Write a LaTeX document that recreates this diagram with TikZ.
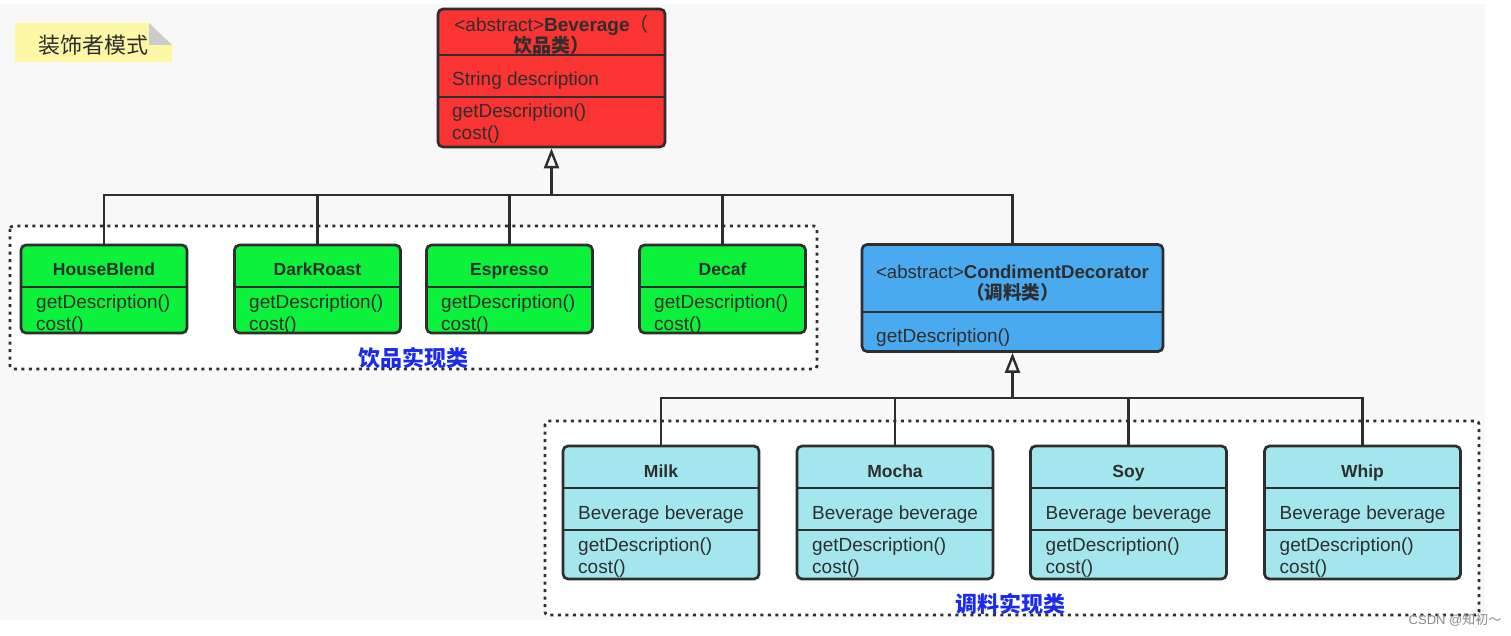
\documentclass[tikz,border=0pt]{standalone}
\usepackage{fontspec}
\setmainfont{Liberation Sans}
\newfontfamily\cjk{Noto Sans CJK SC}
\usetikzlibrary{arrows.meta}
\usetikzlibrary{calc}
\definecolor{bgray}{HTML}{F8F8F8}
\definecolor{edge}{HTML}{2E2E2E}
\definecolor{bevred}{HTML}{FA3333}
\definecolor{impgreen}{HTML}{0CF23C}
\definecolor{decblue}{HTML}{4AAAF0}
\definecolor{condcyan}{HTML}{A3E6EE}
\definecolor{notey}{HTML}{FCF8A6}
\definecolor{groupblue}{HTML}{1A2BEF}

\begin{document}
\begin{tikzpicture}[x=1pt,y=-1pt,
	cls/.style={draw=edge,line width=2.7pt,rounded corners=5pt,inner sep=0pt},
	sep/.style={draw=edge,line width=2.7pt},
	wire/.style={draw=edge,line width=2.7pt},
	inh/.style={wire,-{Triangle[open,length=20pt,width=15pt,line width=2.4pt]}},
	grp/.style={draw=edge,fill=white,line width=2.7pt,dash pattern=on 3pt off 4.5pt,rounded corners=3pt},
	memb/.style={anchor=base west,inner sep=0pt,text=edge,font=\fontsize{19}{21}\selectfont},
	ttl/.style={anchor=base,inner sep=0pt,text=edge,font=\fontsize{17.5}{21.5}\selectfont\bfseries},
	head/.style={inner sep=0pt,text=edge,align=center},
	grplabel/.style={inner sep=0pt,text=groupblue,font=\fontsize{22}{24}\selectfont\cjk\bfseries}]

	    % page and note
	    \useasboundingbox (0,0) rectangle (1511,636);
	    \fill[white] (0,0) rectangle (1511,636);
	    \fill[bgray] (0,4) rectangle (1485,620);
	    \fill[notey] (15,23) -- (149,23) -- (172,45) -- (172,62) -- (15,62) -- cycle;
	    \fill[black!20] (149,23) -- (149,45) -- (172,45) -- cycle;
	    \node[inner sep=0pt,text=edge,font=\fontsize{22}{24}\selectfont\cjk] (note) at (93,45) {装饰者模式};

	    % groups
	    \draw[grp] (10,226) rectangle (817,369);
	    \draw[grp] (545,421) rectangle (1479,615);

	    % Beverage
	    \node[cls,fill=bevred,minimum width=227pt,minimum height=138pt] (bev) at (551.5,78) {};
	    \draw[sep] (438,55) -- (665,55);
	    \draw[sep] (438,97) -- (665,97);
	    \node[head,font=\fontsize{19}{21.5}\selectfont] (bevt) at (551.5,35) {<abstract>\textbf{Beverage}\cjk（\\{\cjk\bfseries 饮品类）}};
	    \node[memb] (beva) at (452,86) {String description};
	    \node[memb] (bevm1) at (452,118) {getDescription()};
	    \node[memb] (bevm2) at (452,140) {cost()};

	    % drinks
	    \node[cls,fill=impgreen,minimum width=166pt,minimum height=88pt] (hb) at (104,289) {};
	    \node[cls,fill=impgreen,minimum width=166pt,minimum height=88pt] (dr) at (317.5,289) {};
	    \node[cls,fill=impgreen,minimum width=166pt,minimum height=88pt] (es) at (509.5,289) {};
	    \node[cls,fill=impgreen,minimum width=166pt,minimum height=88pt] (dc) at (722.5,289) {};
	    \draw[sep] (21,287) -- (187,287);
	    \draw[sep] (234.5,287) -- (400.5,287);
	    \draw[sep] (426.5,287) -- (592.5,287);
	    \draw[sep] (639.5,287) -- (805.5,287);
	    \node[ttl] (hbt) at (104,275.5) {HouseBlend};
	    \node[ttl] (drt) at (317.5,275.5) {DarkRoast};
	    \node[ttl] (est) at (509.5,275.5) {Espresso};
	    \node[ttl] (dct) at (722.5,275.5) {Decaf};
	    \node[memb] (hbm1) at (36,308) {getDescription()};
	    \node[memb] (hbm2) at (36,330) {cost()};
	    \node[memb] (drm1) at (249,308) {getDescription()};
	    \node[memb] (drm2) at (249,330) {cost()};
	    \node[memb] (esm1) at (441,308) {getDescription()};
	    \node[memb] (esm2) at (441,330) {cost()};
	    \node[memb] (dcm1) at (654,308) {getDescription()};
	    \node[memb] (dcm2) at (654,330) {cost()};
	    \node[grplabel] (drinks) at (413,358) {饮品实现类};

	    % CondimentDecorator
	    \node[cls,fill=decblue,minimum width=301pt,minimum height=107pt] (cd) at (1012.5,298) {};
	    \draw[sep] (862,312) -- (1163,312);
	    \node[head,font=\fontsize{18.6}{21.5}\selectfont] (cdt) at (1012.5,283) {<abstract>\textbf{CondimentDecorator}\\{\cjk\bfseries （调料类）}};
	    \node[memb] (cdm1) at (876,342) {getDescription()};

	    % condiments
	    \node[cls,fill=condcyan,minimum width=196pt,minimum height=133pt] (milk) at (661,512.5) {};
	    \node[cls,fill=condcyan,minimum width=196pt,minimum height=133pt] (mocha) at (895,512.5) {};
	    \node[cls,fill=condcyan,minimum width=196pt,minimum height=133pt] (soy) at (1128.5,512.5) {};
	    \node[cls,fill=condcyan,minimum width=196pt,minimum height=133pt] (whip) at (1362.5,512.5) {};
	    \draw[sep] (563,488) -- (759,488);  \draw[sep] (563,530) -- (759,530);
	    \draw[sep] (797,488) -- (993,488);  \draw[sep] (797,530) -- (993,530);
	    \draw[sep] (1030.5,488) -- (1226.5,488);  \draw[sep] (1030.5,530) -- (1226.5,530);
	    \draw[sep] (1264.5,488) -- (1460.5,488);  \draw[sep] (1264.5,530) -- (1460.5,530);
	    \node[ttl] (milkt) at (661,477) {Milk};
	    \node[ttl] (mochat) at (895,477) {Mocha};
	    \node[ttl] (soyt) at (1128.5,477) {Soy};
	    \node[ttl] (whipt) at (1362.5,477) {Whip};
	    \node[memb] (milka) at (578,519) {Beverage beverage};
	    \node[memb] (milkm1) at (578,551) {getDescription()};
	    \node[memb] (milkm2) at (578,573) {cost()};
	    \node[memb] (mochaa) at (812,519) {Beverage beverage};
	    \node[memb] (mocham1) at (812,551) {getDescription()};
	    \node[memb] (mocham2) at (812,573) {cost()};
	    \node[memb] (soya) at (1045.5,519) {Beverage beverage};
	    \node[memb] (soym1) at (1045.5,551) {getDescription()};
	    \node[memb] (soym2) at (1045.5,573) {cost()};
	    \node[memb] (whipa) at (1279.5,519) {Beverage beverage};
	    \node[memb] (whipm1) at (1279.5,551) {getDescription()};
	    \node[memb] (whipm2) at (1279.5,573) {cost()};
	    \node[grplabel] (condiments) at (1010,604) {调料实现类};

	    % inheritance
	    \coordinate (bus1) at (551.5,195);
	    \draw[inh] (bus1) -- (bev.south);
	    \draw[wire] (hb.north) |- (bus1) -| (cd.north);
	    \draw[wire] (dr.north) -- (dr.north |- bus1);
	    \draw[wire] (es.north) -- (es.north |- bus1);
	    \draw[wire] (dc.north) -- (dc.north |- bus1);
	    \coordinate (bus2) at (1012.5,398);
	    \draw[inh] (bus2) -- (cd.south);
	    \draw[wire] (milk.north) |- (bus2) -| (whip.north);
	    \draw[wire] (mocha.north) -- (mocha.north |- bus2);
	    \draw[wire] (soy.north) -- (soy.north |- bus2);

	    \node[inner sep=0pt,text=black!45,font=\fontsize{13}{14}\selectfont] (mark) at (1455,620) {CSDN @{\cjk 知初～}};

	    \end{tikzpicture}
\end{document}
